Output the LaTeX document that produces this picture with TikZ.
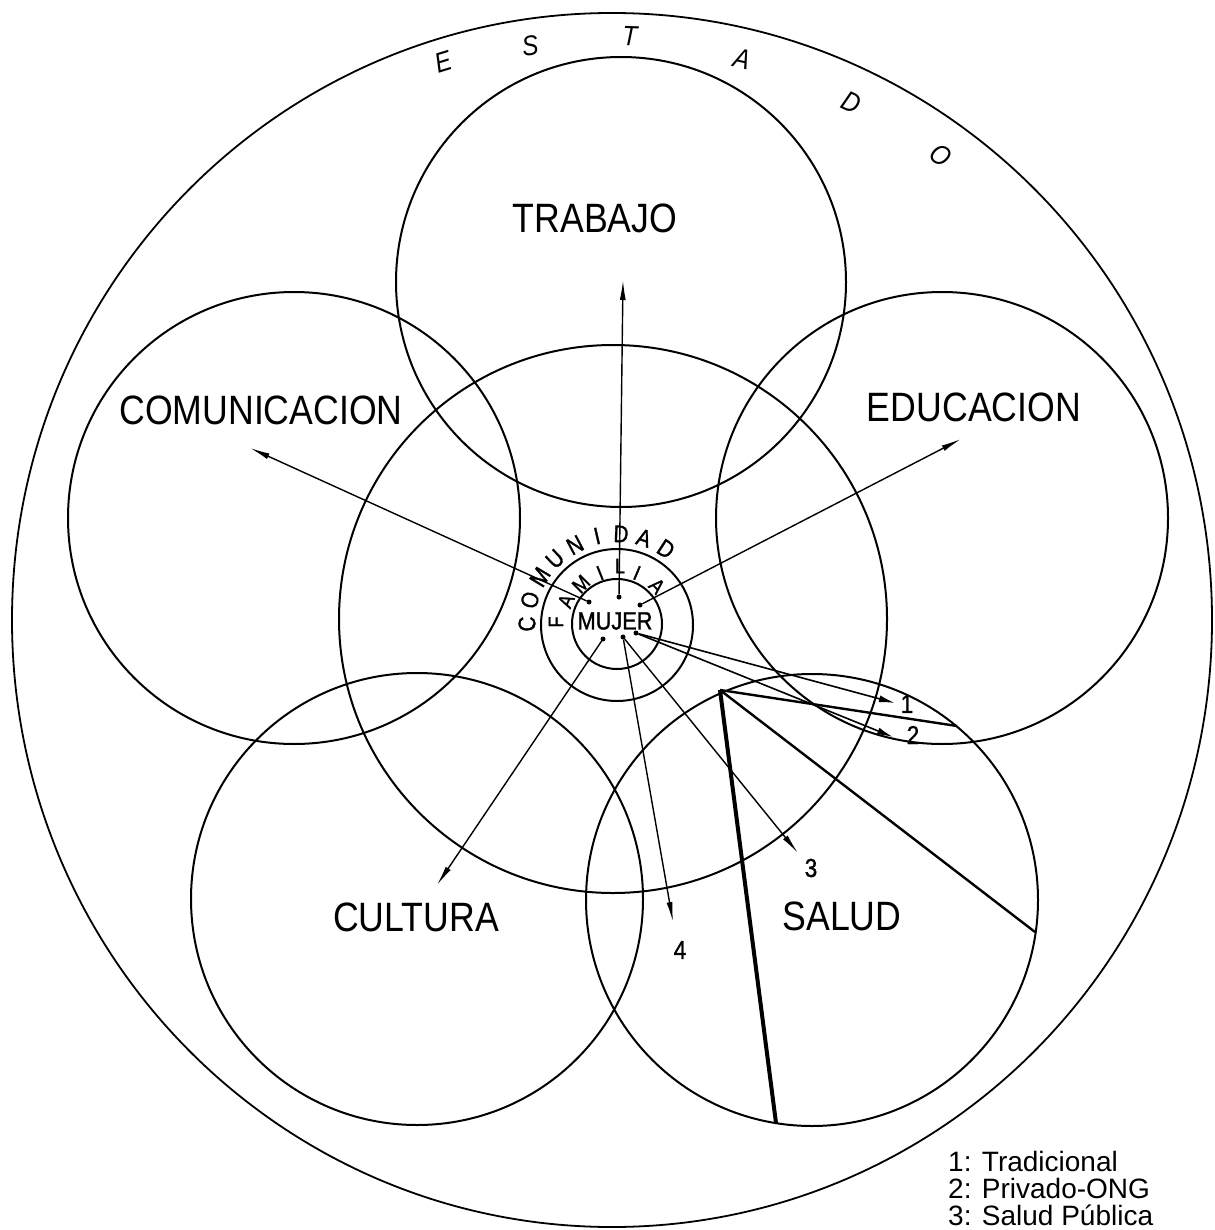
\documentclass[tikz,border=0pt]{standalone}
\usepackage{fontspec}
\setmainfont{Liberation Sans}[FakeStretch=0.87]
\newfontfamily\legfont{Liberation Sans}
\newfontfamily\ringfont{Liberation Sans}[FakeStretch=0.87, FakeBold=1.2]
\usetikzlibrary{arrows.meta}
\tikzset{
  ring/.style={draw=black, line width=2pt},
  outerring/.style={draw=black, line width=1.8pt},
  spoke/.style={-{Latex[length=20pt,width=6pt]}, line width=1.4pt},
  spokeb/.style={-{Latex[length=16pt,width=7pt]}, line width=1.6pt},
  blade/.style={black, line width=2.4pt},
  heavyblade/.style={black, line width=4pt},
  areatxt/.style={font=\fontsize{41}{41}\selectfont, inner sep=0pt},
  ringtxt/.style={font=\ringfont\fontsize{24}{24}\selectfont, inner sep=0pt},
  famtxt/.style={font=\ringfont\fontsize{21}{21}\selectfont, inner sep=0pt},
  statetxt/.style={font=\itshape\fontsize{28}{28}\selectfont, inner sep=0pt},
  numtxt/.style={font=\ringfont\fontsize{26}{26}\selectfont, inner sep=0pt},
  legtxt/.style={font=\legfont\fontsize{28}{27}\selectfont, anchor=north west, align=left, inner sep=0pt},
  mdot/.style={circle, fill=black, inner sep=0pt, minimum size=5pt},
}

\begin{document}
\begin{tikzpicture}[x=1pt, y=-1pt]
  \useasboundingbox (0,0) rectangle (1214,1230);
  \draw[outerring] (612,620) ellipse[x radius=600, y radius=607];
  \draw[ring] (621,282) circle[radius=225];
  \draw[ring] (294,518) circle[radius=226];
  \draw[ring] (942,518) circle[radius=226];
  \draw[ring] (417,899) circle[radius=226];
  \draw[ring] (812,900) circle[radius=226];
  \draw[ring] (613,619) circle[radius=274];
  \draw[ring] (617,625) circle[radius=76];
  \draw[ring] (617,624) circle[radius=45];
  \node[statetxt, rotate=17] (st1) at (443,62) {E}; \node[statetxt, rotate=8] (st2) at (530,46) {S};
  \node[statetxt, rotate=-2] (st3) at (630,36) {T}; \node[statetxt, rotate=-13] (st4) at (742,59) {A};
  \node[statetxt, rotate=-25] (st5) at (852,102) {D}; \node[statetxt, rotate=-36] (st6) at (941,155) {O};
  \node[areatxt] (trab) at (595,218) {TRABAJO};
  \node[areatxt] (comu) at (261,410) {COMUNICACION};
  \node[areatxt] (educ) at (974,407) {EDUCACION};
  \node[areatxt] (cult) at (416,917) {CULTURA};
  \node[areatxt] (salu) at (842,916) {SALUD};
  \node[font=\ringfont\fontsize{25}{25}\selectfont, inner sep=0pt] (mujer) at (615,621) {MUJER};
  \node[ringtxt, rotate=90] (cm1) at (527,624) {C}; \node[ringtxt, rotate=75] (cm2) at (530,600) {O};
  \node[ringtxt, rotate=59] (cm3) at (540,577) {M}; \node[ringtxt, rotate=44] (cm4) at (555,559) {U};
  \node[ringtxt, rotate=28] (cm5) at (575,545) {N}; \node[ringtxt, rotate=13] (cm6) at (597,536) {I};
  \node[ringtxt, rotate=-2] (cm7) at (621,534) {D}; \node[ringtxt, rotate=-18] (cm8) at (644,538) {A};
  \node[ringtxt, rotate=-33] (cm9) at (666,549) {D};
  \node[famtxt, rotate=90] (fa1) at (556,622) {F}; \node[famtxt, rotate=67] (fa2) at (566,601) {A};
  \node[famtxt, rotate=45] (fa3) at (581,584) {M}; \node[famtxt, rotate=22] (fa4) at (600,573) {I};
  \node[famtxt, rotate=0] (fa5) at (620,566) {L}; \node[famtxt, rotate=-23] (fa6) at (637,573) {I};
  \node[famtxt, rotate=-46] (fa7) at (657,586) {A};
  \node[mdot] (pc) at (589,602) {}; \node[mdot] (pt) at (619,597) {}; \node[mdot] (pe) at (640,605) {};
  \node[mdot] (pk) at (603,639) {}; \node[mdot] (ps) at (623,637) {}; \node[mdot] (pr) at (636,633) {};
  \coordinate (tc) at (250,448); \coordinate (tt) at (623,280); \coordinate (te) at (961,439);
  \coordinate (tk) at (437,885); \coordinate (t4) at (673,922); \coordinate (t3) at (798,853);
  \coordinate (t1) at (895,703); \coordinate (t2) at (893,737);
  \draw[spoke] (pc) -- (tc); \draw[spoke] (pt) -- (tt); \draw[spoke] (pe) -- (te);
  \draw[spoke] (pk) -- (tk); \draw[spoke] (ps) -- (t4); \draw[spoke] (ps) -- (t3);
  \draw[spokeb] (pr) -- (t1); \draw[spokeb] (pr) -- (t2);
  \node[numtxt] (n1) at (907,704) {1}; \node[numtxt] (n2) at (913,735) {2};
  \node[numtxt] (n3) at (811,868) {3}; \node[numtxt] (n4) at (680,950) {4};
  \coordinate (v) at (720,690); \coordinate (c1) at (957,726);
  \coordinate (c2) at (1035,932); \coordinate (c3) at (776,1123);
  \draw[blade] (v) -- (c1); \draw[blade] (v) -- (c2); \draw[heavyblade] (v) -- (c3);
  \node[legtxt] (leg) at (948,1151) {1: Tradicional\\2: Privado-ONG\\3: Salud Pública};
\end{tikzpicture}
\end{document}
